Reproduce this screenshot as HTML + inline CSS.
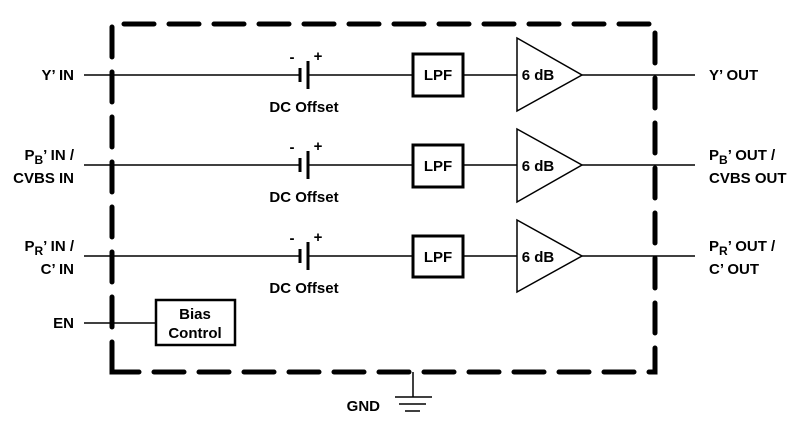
<!DOCTYPE html>
<html><head><style>body{margin:0;background:#fff}svg{display:block}text{font-family:"Liberation Sans",Arial,sans-serif;font-weight:bold;font-size:15px;fill:#000}</style></head><body>
<svg width="808" height="440" viewBox="0 0 808 440">
<g stroke="#000" fill="none">
<path d="M112 372 V24 H655 V372 Z" stroke-width="5" stroke-dasharray="30 15" stroke-linecap="round"/>
<g stroke-width="1.5">
<line x1="84" y1="75" x2="300" y2="75"/><line x1="308" y1="75" x2="413" y2="75"/><line x1="463" y1="75" x2="517" y2="75"/><line x1="582" y1="75" x2="695" y2="75"/>
<line x1="84" y1="165" x2="300" y2="165"/><line x1="308" y1="165" x2="413" y2="165"/><line x1="463" y1="165" x2="517" y2="165"/><line x1="582" y1="165" x2="695" y2="165"/>
<line x1="84" y1="256" x2="300" y2="256"/><line x1="308" y1="256" x2="413" y2="256"/><line x1="463" y1="256" x2="517" y2="256"/><line x1="582" y1="256" x2="695" y2="256"/>
<line x1="84" y1="323" x2="156" y2="323"/>
<path d="M517 38 L582 75 L517 111 Z"/><path d="M517 129 L582 165 L517 202 Z"/><path d="M517 220 L582 256 L517 292 Z"/>
<line x1="413" y1="372" x2="413" y2="397"/><line x1="395" y1="397" x2="432" y2="397"/><line x1="399" y1="404" x2="426" y2="404"/><line x1="405" y1="411" x2="420" y2="411"/>
</g>
<g stroke-width="3">
<rect x="413" y="54" width="50" height="42"/><rect x="413" y="145" width="50" height="42"/><rect x="413" y="236" width="50" height="41"/>
<rect x="156" y="300" width="79" height="45" stroke-width="2.5"/>
<line x1="300" y1="68" x2="300" y2="82"/><line x1="308" y1="61" x2="308" y2="89"/>
<line x1="300" y1="158" x2="300" y2="172"/><line x1="308" y1="151" x2="308" y2="179"/>
<line x1="300" y1="249" x2="300" y2="263"/><line x1="308" y1="242" x2="308" y2="270"/>
</g>
</g>
<g text-anchor="middle">
<text x="438" y="80">LPF</text><text x="438" y="171">LPF</text><text x="438" y="262">LPF</text>
<text x="538" y="80">6 dB</text><text x="538" y="171">6 dB</text><text x="538" y="262">6 dB</text>
<text x="304" y="112">DC Offset</text><text x="304" y="202">DC Offset</text><text x="304" y="293">DC Offset</text>
<text x="195" y="319">Bias</text><text x="195" y="338">Control</text>
<text x="292" y="62">-</text><text x="318" y="61">+</text>
<text x="292" y="152">-</text><text x="318" y="151">+</text>
<text x="292" y="243">-</text><text x="318" y="242">+</text>
</g>
<g text-anchor="end">
<text x="74" y="80">Y’ IN</text>
<text x="74" y="160">P<tspan font-size="12" dy="4">B</tspan><tspan dy="-4">’ IN /</tspan></text>
<text x="74" y="183">CVBS IN</text>
<text x="74" y="251">P<tspan font-size="12" dy="4">R</tspan><tspan dy="-4">’ IN /</tspan></text>
<text x="74" y="274">C’ IN</text>
<text x="74" y="328">EN</text>
<text x="380" y="411">GND</text>
</g>
<text x="709" y="80">Y’ OUT</text>
<text x="709" y="160">P<tspan font-size="12" dy="4">B</tspan><tspan dy="-4">’ OUT /</tspan></text>
<text x="709" y="183">CVBS OUT</text>
<text x="709" y="251">P<tspan font-size="12" dy="4">R</tspan><tspan dy="-4">’ OUT /</tspan></text>
<text x="709" y="274">C’ OUT</text>
</svg>
</body></html>
